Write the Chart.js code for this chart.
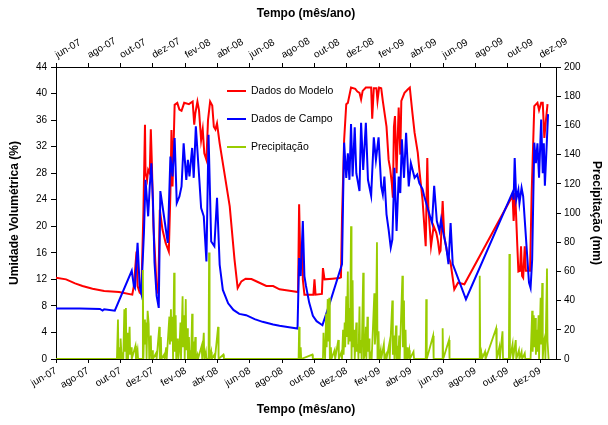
<!DOCTYPE html>
<html><head><meta charset="utf-8">
<style>html,body{margin:0;padding:0;background:#fff}#wrap{width:608px;height:425px}</style>
<script src="https://cdn.jsdelivr.net/npm/chart.js@4.4.1/dist/chart.umd.min.js"></script>
</head><body><div id="wrap"><canvas id="c" width="608" height="425"></canvas></div>
<script>
// ---------- DATA ----------
const modelDates = ['2007-06-01','2007-06-20','2007-07-07','2007-07-21','2007-08-09','2007-08-31','2007-09-28','2007-10-23','2007-10-26','2007-10-31','2007-11-02','2007-11-06','2007-11-09','2007-11-13','2007-11-16','2007-11-17','2007-11-20','2007-11-22','2007-11-25','2007-11-27','2007-11-29','2007-12-02','2007-12-06','2007-12-08','2007-12-11','2007-12-14','2007-12-19','2007-12-25','2007-12-31','2008-01-03','2008-01-05','2008-01-07','2008-01-11','2008-01-16','2008-01-20','2008-01-24','2008-01-29','2008-02-07','2008-02-14','2008-02-17','2008-02-19','2008-02-23','2008-02-26','2008-03-01','2008-03-04','2008-03-07','2008-03-11','2008-03-14','2008-03-18','2008-03-22','2008-03-25','2008-03-28','2008-03-31','2008-04-05','2008-04-14','2008-04-24','2008-05-03','2008-05-09','2008-05-16','2008-05-24','2008-06-04','2008-06-16','2008-07-02','2008-07-15','2008-07-27','2008-08-15','2008-08-31','2008-09-02','2008-09-04','2008-09-06','2008-09-08','2008-09-09','2008-09-12','2008-09-21','2008-09-29','2008-10-01','2008-10-03','2008-10-15','2008-10-17','2008-10-20','2008-11-04','2008-11-17','2008-11-20','2008-11-22','2008-11-26','2008-11-30','2008-12-03','2008-12-09','2008-12-17','2008-12-21','2008-12-25','2008-12-28','2008-12-31','2009-01-06','2009-01-16','2009-01-18','2009-01-21','2009-01-26','2009-01-28','2009-01-31','2009-02-04','2009-02-07','2009-02-14','2009-02-18','2009-02-21','2009-02-24','2009-02-26','2009-02-28','2009-03-02','2009-03-05','2009-03-09','2009-03-12','2009-03-14','2009-03-20','2009-03-26','2009-03-30','2009-04-04','2009-04-08','2009-04-14','2009-04-17','2009-04-23','2009-04-29','2009-05-02','2009-05-04','2009-05-09','2009-05-14','2009-05-19','2009-05-22','2009-05-25','2009-05-27','2009-05-31','2009-06-03','2009-06-09','2009-06-15','2009-06-22','2009-06-29','2009-07-11','2009-10-10','2009-10-12','2009-10-15','2009-10-19','2009-10-21','2009-10-24','2009-10-26','2009-10-28','2009-10-30','2009-11-02','2009-11-04','2009-11-12','2009-11-15','2009-11-20','2009-11-26','2009-11-29','2009-12-03','2009-12-06','2009-12-09','2009-12-12','2009-12-15'];
const modelValues = [12.25,12.0,11.4,11.0,10.6,10.25,10.1,9.7,11.0,16.2,11.0,10.0,9.8,22.0,35.3,28.0,27.0,28.5,28.0,34.6,29.5,20.0,14.0,10.5,9.9,22.5,19.5,17.5,16.2,25.0,34.5,26.0,38.3,38.6,37.6,37.4,38.6,38.4,38.8,35.3,37.0,38.8,37.5,33.0,34.6,31.0,30.0,36.0,38.8,38.2,35.0,34.6,35.5,32.5,28.0,23.0,15.0,10.7,11.7,12.1,12.05,11.6,11.0,11.0,10.5,10.3,10.1,23.3,16.0,13.8,17.0,12.0,9.7,9.7,9.7,12.0,9.7,9.8,13.7,12.0,12.1,12.2,12.3,21.3,33.0,38.4,38.6,40.9,40.7,40.3,40.1,39.1,40.4,40.9,40.9,36.2,40.8,40.8,38.9,40.9,40.8,38.9,35.0,30.0,28.6,26.5,24.3,35.0,36.6,28.0,37.9,30.8,38.9,40.1,40.6,40.9,37.0,34.1,31.1,28.5,24.0,17.0,30.3,22.8,17.0,20.0,19.0,17.8,16.0,16.3,23.8,18.5,15.8,14.5,10.5,11.5,11.25,24.6,20.8,25.0,17.0,13.2,13.3,17.0,12.5,12.25,17.0,13.3,13.3,24.8,38.1,38.6,37.5,38.6,38.6,33.3,36.0,38.4];

const fieldDates = ['2007-06-01','2007-07-16','2007-08-23','2007-08-28','2007-08-31','2007-09-20','2007-10-22','2007-10-26','2007-10-28','2007-11-02','2007-11-06','2007-11-09','2007-11-14','2007-11-17','2007-11-22','2007-11-25','2007-11-28','2007-12-01','2007-12-04','2007-12-08','2007-12-12','2007-12-15','2007-12-21','2007-12-29','2008-01-03','2008-01-07','2008-01-11','2008-01-15','2008-01-20','2008-01-24','2008-01-28','2008-02-02','2008-02-05','2008-02-08','2008-02-13','2008-02-16','2008-02-20','2008-02-25','2008-03-01','2008-03-06','2008-03-11','2008-03-15','2008-03-20','2008-03-26','2008-03-31','2008-04-05','2008-04-11','2008-04-21','2008-05-01','2008-05-12','2008-05-25','2008-06-10','2008-06-25','2008-07-15','2008-07-27','2008-08-14','2008-08-30','2008-09-02','2008-09-05','2008-09-09','2008-09-12','2008-09-15','2008-09-21','2008-09-28','2008-10-05','2008-10-14','2008-10-16','2008-10-29','2008-11-22','2008-11-24','2008-11-26','2008-11-30','2008-12-03','2008-12-06','2008-12-09','2008-12-12','2008-12-16','2008-12-19','2008-12-25','2008-12-28','2009-01-01','2009-01-06','2009-01-10','2009-01-16','2009-01-21','2009-01-25','2009-01-30','2009-02-04','2009-02-07','2009-02-10','2009-02-14','2009-02-18','2009-02-22','2009-02-25','2009-03-01','2009-03-05','2009-03-09','2009-03-12','2009-03-15','2009-03-19','2009-03-23','2009-03-28','2009-04-01','2009-04-08','2009-04-13','2009-04-17','2009-04-23','2009-04-26','2009-05-06','2009-05-11','2009-05-15','2009-05-20','2009-05-25','2009-05-28','2009-05-31','2009-06-07','2009-06-11','2009-06-15','2009-06-19','2009-07-14','2009-10-10','2009-10-12','2009-10-14','2009-10-17','2009-10-21','2009-10-23','2009-10-27','2009-10-30','2009-11-10','2009-11-13','2009-11-16','2009-11-20','2009-11-23','2009-11-26','2009-11-29','2009-12-03','2009-12-06','2009-12-08','2009-12-10','2009-12-13','2009-12-16'];
const fieldValues = [7.6,7.6,7.55,7.3,7.5,7.28,13.3,11.0,10.7,17.5,10.9,9.9,19.0,27.0,21.5,26.0,29.5,24.0,14.5,9.5,7.7,25.3,22.0,17.5,30.5,27.5,33.3,23.5,24.5,26.0,32.5,27.0,30.0,27.5,31.8,27.3,35.05,29.0,22.75,21.5,14.7,33.8,17.7,17.0,24.3,14.2,10.4,8.4,7.4,6.8,6.6,6.0,5.6,5.2,5.0,4.8,4.6,15.2,12.5,20.8,12.5,11.0,8.5,6.5,5.7,5.2,5.1,8.2,14.3,24.0,32.6,27.3,31.0,27.0,35.4,27.5,34.9,28.0,25.3,35.6,28.5,35.6,27.0,24.6,33.4,30.0,33.4,26.0,24.8,27.5,21.8,19.5,16.8,18.0,28.8,19.3,27.5,25.0,33.1,27.3,34.1,26.0,29.5,27.3,27.8,26.5,25.6,24.6,21.8,20.5,26.1,20.8,19.3,21.0,19.5,16.8,14.3,20.5,14.3,9.0,25.1,24.0,30.3,24.05,25.5,23.5,25.8,24.5,11.5,10.7,15.0,32.6,29.5,32.5,27.3,36.1,28.0,32.5,26.1,31.5,36.9];

const rainDates = ['2007-06-01','2007-09-24','2007-09-26','2007-09-27','2007-09-29','2007-09-30','2007-10-01','2007-10-03','2007-10-05','2007-10-06','2007-10-08','2007-10-09','2007-10-11','2007-10-12','2007-10-14','2007-10-15','2007-10-18','2007-10-19','2007-10-21','2007-10-22','2007-10-29','2007-10-30','2007-11-02','2007-11-03','2007-11-11','2007-11-12','2007-11-13','2007-11-15','2007-11-16','2007-11-18','2007-11-19','2007-11-21','2007-11-23','2007-11-24','2007-11-27','2007-11-28','2007-11-30','2007-12-01','2007-12-07','2007-12-08','2007-12-13','2007-12-14','2007-12-16','2007-12-17','2007-12-22','2007-12-23','2007-12-26','2007-12-27','2008-01-01','2008-01-02','2008-01-04','2008-01-05','2008-01-07','2008-01-08','2008-01-10','2008-01-11','2008-01-13','2008-01-14','2008-01-17','2008-01-18','2008-01-20','2008-01-22','2008-01-23','2008-01-26','2008-01-27','2008-01-29','2008-01-30','2008-02-01','2008-02-02','2008-02-04','2008-02-05','2008-02-07','2008-02-08','2008-02-10','2008-02-11','2008-02-13','2008-02-14','2008-02-16','2008-02-17','2008-02-19','2008-02-20','2008-02-23','2008-02-24','2008-03-02','2008-03-03','2008-03-06','2008-03-07','2008-03-10','2008-03-11','2008-03-15','2008-03-16','2008-03-17','2008-03-20','2008-03-21','2008-03-26','2008-03-27','2008-04-02','2008-04-03','2008-04-12','2008-04-13','2008-09-01','2008-09-02','2008-09-03','2008-09-05','2008-09-06','2008-09-27','2008-09-28','2008-10-17','2008-10-18','2008-10-19','2008-10-20','2008-10-21','2008-10-23','2008-10-24','2008-10-26','2008-10-27','2008-10-29','2008-10-30','2008-11-01','2008-11-02','2008-11-08','2008-11-09','2008-11-15','2008-11-16','2008-11-21','2008-11-22','2008-11-24','2008-11-25','2008-11-27','2008-11-28','2008-11-30','2008-12-01','2008-12-03','2008-12-04','2008-12-06','2008-12-07','2008-12-09','2008-12-10','2008-12-12','2008-12-13','2008-12-15','2008-12-16','2008-12-19','2008-12-20','2008-12-22','2008-12-23','2008-12-25','2008-12-26','2008-12-28','2008-12-29','2009-01-01','2009-01-02','2009-01-04','2009-01-06','2009-01-07','2009-01-09','2009-01-10','2009-01-12','2009-01-13','2009-01-16','2009-01-17','2009-01-22','2009-01-23','2009-01-25','2009-01-27','2009-01-28','2009-01-30','2009-01-31','2009-02-03','2009-02-04','2009-02-09','2009-02-10','2009-02-13','2009-02-14','2009-02-19','2009-02-20','2009-02-25','2009-02-26','2009-02-28','2009-03-01','2009-03-04','2009-03-05','2009-03-07','2009-03-08','2009-03-10','2009-03-11','2009-03-16','2009-03-17','2009-03-19','2009-03-20','2009-03-22','2009-03-23','2009-03-25','2009-03-26','2009-03-29','2009-03-30','2009-04-06','2009-04-07','2009-04-29','2009-04-30','2009-05-01','2009-05-13','2009-05-14','2009-05-30','2009-05-31','2009-06-01','2009-06-12','2009-06-13','2009-08-08','2009-08-09','2009-08-10','2009-08-12','2009-08-13','2009-08-19','2009-08-20','2009-09-09','2009-09-10','2009-09-15','2009-09-16','2009-09-21','2009-09-22','2009-10-03','2009-10-04','2009-10-05','2009-10-10','2009-10-11','2009-10-16','2009-10-17','2009-10-22','2009-10-23','2009-10-27','2009-10-28','2009-11-02','2009-11-03','2009-11-13','2009-11-14','2009-11-16','2009-11-17','2009-11-19','2009-11-20','2009-11-22','2009-11-23','2009-11-25','2009-11-26','2009-11-28','2009-11-29','2009-12-02','2009-12-03','2009-12-05','2009-12-06','2009-12-08','2009-12-10','2009-12-11','2009-12-14','2009-12-15','2009-12-17'];
const rainValues = [0,0,27,0,8,0,14,0,3,0,34,5,35,0,18,0,22,3,8,0,9,0,6,0,0,61,0,27,10,25,0,33,24,0,16,0,6,0,4,0,22,0,15,0,3,0,8,0,29,10,34,12,29,0,59,5,30,0,14,0,7,25,0,43,8,30,0,41,6,21,0,15,0,6,0,31,0,12,0,15,0,3,0,9,0,18,0,5,0,0,73,0,5,0,3,0,22,0,3,0,0,22,0,8,0,3,0,0,18,5,12,0,31,8,41,12,42,0,8,0,6,0,13,0,5,0,20,3,25,8,43,15,60,10,35,12,91,0,54,8,20,0,25,5,10,0,36,4,13,0,59,0,3,22,0,29,5,14,0,4,0,45,10,20,80,0,19,0,6,0,10,0,3,0,10,0,40,3,16,0,23,0,9,0,16,0,57,8,40,0,20,0,8,0,6,0,5,0,0,41,0,16,0,0,21,0,13,0,0,57,0,4,0,5,0,21,0,8,0,19,0,0,72,0,10,0,13,0,6,0,5,0,4,0,0,11,33,5,30,8,28,3,20,5,30,0,42,10,52,0,12,15,0,62,12,0];

const axisStart = '2007-06-01';
const axisEnd = '2009-12-31';
const tickDates = ['2007-06-01','2007-08-01','2007-10-01','2007-12-01','2008-02-01','2008-04-01','2008-06-01','2008-08-01','2008-10-01','2008-12-01','2009-02-01','2009-04-01','2009-06-01','2009-08-01','2009-10-01','2009-12-01'];
const tickLabels = ['jun-07','ago-07','out-07','dez-07','fev-08','abr-08','jun-08','ago-08','out-08','dez-08','fev-09','abr-09','jun-09','ago-09','out-09','dez-09'];
const seriesNames = ['Dados do Modelo','Dados de Campo','Precipitação'];

// ---------- HELPERS ----------
function dayNum(s){const p=s.split('-').map(Number);return Date.UTC(p[0],p[1]-1,p[2])/86400000;}
function pts(ds,vs){return ds.map((d,i)=>({x:dayNum(d),y:vs[i]}));}
const FONT='"Liberation Sans", Arial, sans-serif';
const tickDays = tickDates.map(dayNum);
function xLabel(v){const i=tickDays.indexOf(v);return i>=0?tickLabels[i]:'';}

const xCommon = (pos,h,titlePad,labelOffset)=>({
  type:'linear', position:pos, min:dayNum(axisStart), max:dayNum(axisEnd),
  afterBuildTicks:s=>{s.ticks=tickDays.map(v=>({value:v}));},
  afterFit:s=>{s.height=h;},
  ticks:{callback:v=>xLabel(v),autoSkip:false,minRotation:30,maxRotation:30,color:'#000',font:{family:FONT,size:10},padding:2,labelOffset:labelOffset},
  grid:{drawOnChartArea:false,drawTicks:true,tickLength:4,color:'#000'},
  border:{display:true,color:'#000',width:1},
  title:{display:true,text:'Tempo (mês/ano)',color:'#000',font:{family:FONT,size:12,weight:'bold'},padding:titlePad}
});

const legendPlugin={
  id:'inlineLegend',
  afterDraw(chart){
    const ctx=chart.ctx;
    const cols=['#FF0000','#0000FF','#99CC00'];
    const x0=227,x1=246,tx=251,ys=[91,119,147];
    ctx.save();
    ctx.font='10.5px '+FONT;ctx.textBaseline='middle';ctx.textAlign='left';ctx.fillStyle='#000';
    seriesNames.forEach((n,i)=>{
      ctx.strokeStyle=cols[i];ctx.lineWidth=2;ctx.beginPath();ctx.moveTo(x0,ys[i]);ctx.lineTo(x1,ys[i]);ctx.stroke();
      ctx.fillText(n,tx,ys[i]);
    });
    ctx.restore();
  }
};

new Chart(document.getElementById('c'),{
  type:'line',
  data:{datasets:[
    {label:seriesNames[0],data:pts(modelDates,modelValues),borderColor:'#FF0000',borderWidth:2,pointRadius:0,tension:0,yAxisID:'y',xAxisID:'x',order:3},
    {label:seriesNames[1],data:pts(fieldDates,fieldValues),borderColor:'#0000FF',borderWidth:2,pointRadius:0,tension:0,yAxisID:'y',xAxisID:'x',order:2},
    {label:seriesNames[2],data:pts(rainDates,rainValues),borderColor:'#99CC00',borderWidth:1.8,pointRadius:0,tension:0,yAxisID:'y2',xAxisID:'x',order:1}
  ]},
  options:{
    responsive:false,animation:false,devicePixelRatio:1,
    layout:{padding:0},
    plugins:{legend:{display:false},tooltip:{enabled:false}},
    scales:{
      x:xCommon('bottom',66,{top:0,bottom:8},0),
      x2:xCommon('top',67,{top:6,bottom:0},6),
      y:{type:'linear',position:'left',min:0,max:44,
        afterFit:s=>{s.width=56;},
        ticks:{stepSize:4,color:'#000',font:{family:FONT,size:10},padding:4},
        grid:{drawOnChartArea:false,tickLength:5,color:'#000'},
        border:{color:'#000',width:1},
        title:{display:true,text:'Umidade Volumétrica (%)',color:'#000',font:{family:FONT,size:12,weight:'bold'},padding:{top:7,bottom:0}}},
      y2:{type:'linear',position:'right',min:0,max:200,
        afterFit:s=>{s.width=52;},
        ticks:{stepSize:10,color:'#000',font:{family:FONT,size:10},padding:3},
        grid:{drawOnChartArea:false,tickLength:5,color:'#000'},
        border:{color:'#000',width:1},
        title:{display:true,text:'Precipitação (mm)',color:'#000',font:{family:FONT,size:12,weight:'bold'},padding:{top:4,bottom:0}}}
    }
  },
  plugins:[legendPlugin]
});
</script></body></html>
